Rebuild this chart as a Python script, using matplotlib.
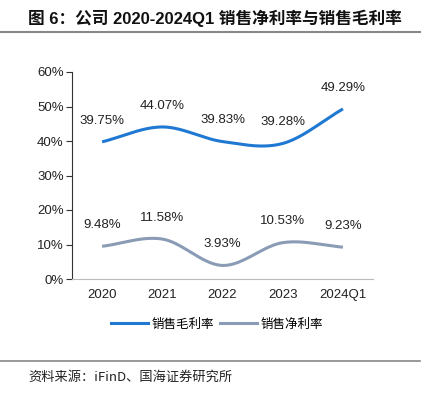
import numpy as np
import matplotlib
matplotlib.use("Agg")
import matplotlib.pyplot as plt
from matplotlib.lines import Line2D

plt.rcParams['font.family'] = ['Liberation Sans', 'Noto Sans CJK SC', 'DejaVu Sans']

categories = ["2020", "2021", "2022", "2023", "2024Q1"]
gross_margin = [39.75, 44.07, 39.83, 39.28, 49.29]
net_margin = [9.48, 11.58, 3.93, 10.53, 9.23]
yticks = [0, 10, 20, 30, 40, 50, 60]
series_names = ["销售毛利率", "销售净利率"]
title = "图 6：公司 2020-2024Q1 销售净利率与销售毛利率"
source = "资料来源：iFinD、国海证券研究所"

def catmull(xs, ys, n=40):
    xs = np.asarray(xs, float); ys = np.asarray(ys, float)
    px = np.concatenate([[2*xs[0]-xs[1]], xs, [2*xs[-1]-xs[-2]]])
    py = np.concatenate([[2*ys[0]-ys[1]], ys, [2*ys[-1]-ys[-2]]])
    ox, oy = [], []
    for i in range(1, len(px)-2):
        t = np.linspace(0, 1, n)
        for arr, out in ((px, ox), (py, oy)):
            p0, p1, p2, p3 = arr[i-1], arr[i], arr[i+1], arr[i+2]
            out.extend(0.5*((2*p1) + (-p0+p2)*t + (2*p0-5*p1+4*p2-p3)*t**2 + (-p0+3*p1-3*p2+p3)*t**3))
    return np.array(ox), np.array(oy)

fig = plt.figure(figsize=(4.25, 3.94), dpi=100)
ax = fig.add_axes([72/425, 1-279/394, (373-72)/425, (279-72)/394])

x = np.arange(len(categories))
blue = "#1f78d1"
gray = "#8a9bb5"
for vals, col in ((gross_margin, blue), (net_margin, gray)):
    sx, sy = catmull(x, vals)
    ax.plot(sx, sy, color=col, lw=2.2, solid_capstyle='butt')
    for xi, v in zip(x, vals):
        ax.annotate(f"{v:.2f}%", (xi, v), xytext=(0, 11), textcoords="offset points",
                    ha="center", va="bottom", fontsize=9.5, color="#222222")

ax.set_xlim(-0.5, 4.5)
ax.set_ylim(0, 60)
ax.set_yticks(yticks)
ax.set_yticklabels([f"{t}%" for t in yticks], fontsize=9.5, color="#222222")
ax.set_xticks(x)
ax.set_xticklabels(categories, fontsize=9.5, color="#222222")
ax.tick_params(axis='x', length=0, pad=7)
ax.tick_params(axis='y', length=4, width=0.8, color="#333333", pad=2)
for s in ("top", "right"):
    ax.spines[s].set_visible(False)
ax.spines["left"].set_color("#333333")
ax.spines["bottom"].set_color("#bbbbbb")

handles = [Line2D([], [], color=blue, lw=2.2), Line2D([], [], color=gray, lw=2.2)]
fig.legend(handles, series_names, loc="center", bbox_to_anchor=(217/425, 1-324/394),
           ncol=2, frameon=False, handlelength=3.0, handletextpad=0.3,
           columnspacing=0.4, prop={'family': ['Noto Sans CJK SC'], 'size': 9})

fig.text(28/425, 1-18/394, title, fontsize=12, fontweight="bold", ha="left", va="center",
         color="#111111")
fig.add_artist(Line2D([0, 420/425], [1-32/394]*2, color="#888888", lw=1.5, transform=fig.transFigure))
fig.add_artist(Line2D([0, 420/425], [1-361/394]*2, color="#888888", lw=1.2, transform=fig.transFigure))
fig.text(28/425, 1-377/394, source, fontsize=9.5, ha="left", va="center", color="#222222",
         family=['Noto Sans CJK SC', 'Liberation Sans'])

fig.savefig("out.png", dpi=100)
